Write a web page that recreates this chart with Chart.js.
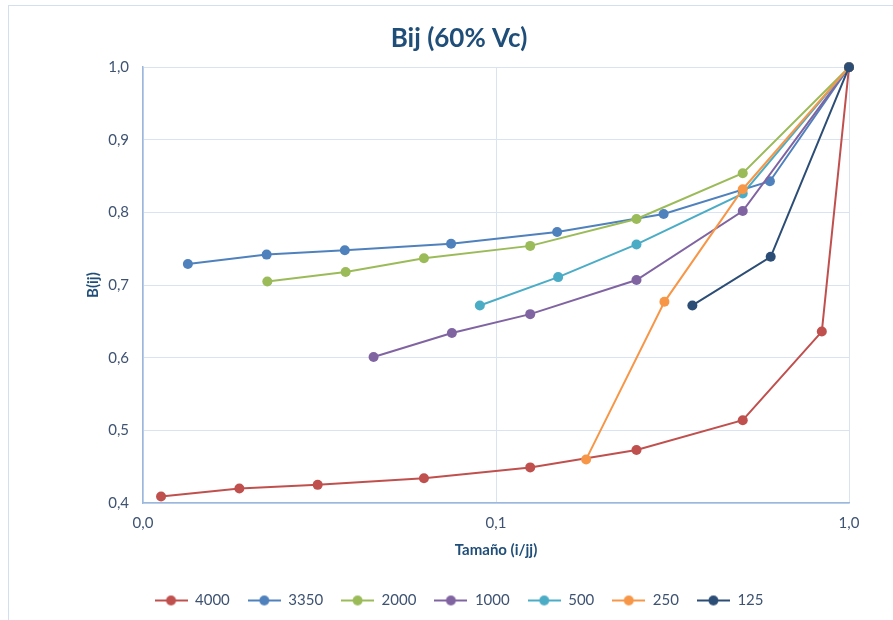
<!DOCTYPE html>
<html>
<head>
<meta charset="utf-8">
<script src="https://cdn.jsdelivr.net/npm/chart.js@4/dist/chart.umd.min.js"></script>
<style>
  html, body { margin: 0; padding: 0; background: #fff; overflow: hidden; }
  #frame { position: absolute; left: 8px; top: 5px; width: 1000px; height: 1000px; border: 1px solid #D3DEEE; }
  #wrap { position: absolute; left: 0; top: 0; width: 893px; height: 620px; }
</style>
</head>
<body>
<div id="frame"></div>
<div id="wrap"><canvas id="bij"></canvas></div>
<script>
// relative size (i/jj) and B(ij) for each top size
const size4000 = [0.01125, 0.01875, 0.03125, 0.0625, 0.125, 0.25, 0.5, 0.8375, 1.0];
const bij4000  = [0.409, 0.420, 0.425, 0.434, 0.449, 0.473, 0.514, 0.636, 1.0];

const size3350 = [0.0134, 0.0224, 0.0373, 0.0746, 0.149, 0.2985, 0.597, 1.0];
const bij3350  = [0.729, 0.742, 0.748, 0.757, 0.773, 0.798, 0.843, 1.0];

const size2000 = [0.0225, 0.0375, 0.0625, 0.125, 0.25, 0.5, 1.0];
const bij2000  = [0.705, 0.718, 0.737, 0.754, 0.791, 0.854, 1.0];

const size1000 = [0.045, 0.075, 0.125, 0.25, 0.5, 1.0];
const bij1000  = [0.601, 0.634, 0.660, 0.707, 0.802, 1.0];

const size500 = [0.09, 0.15, 0.25, 0.5, 1.0];
const bij500  = [0.672, 0.711, 0.756, 0.826, 1.0];

const size250 = [0.18, 0.3, 0.5, 1.0];
const bij250  = [0.460, 0.677, 0.832, 1.0];

const size125 = [0.36, 0.6, 1.0];
const bij125  = [0.672, 0.739, 1.0];

const seriesNames = ['4000', '3350', '2000', '1000', '500', '250', '125'];
const seriesSizes = [size4000, size3350, size2000, size1000, size500, size250, size125];
const seriesBij   = [bij4000, bij3350, bij2000, bij1000, bij500, bij250, bij125];
const seriesColors = ['#C0504D', '#4F81BD', '#9BBB59', '#8064A2', '#4BACC6', '#F79646', '#2C4D75'];

const xTicks = [0.01, 0.1, 1];

function comma(v)
{
    return Number(v).toFixed(1).replace('.', ',');
}

// small line + dot used as legend marker
function legendMarker(color)
{
    const c = document.createElement('canvas');
    c.width = 33; c.height = 12;
    const g = c.getContext('2d');
    g.strokeStyle = color;
    g.lineWidth = 2;
    g.beginPath(); g.moveTo(0, 6); g.lineTo(33, 6); g.stroke();
    g.fillStyle = color;
    g.beginPath(); g.arc(16.5, 6, 5, 0, Math.PI * 2); g.fill();
    return c;
}

// later series are drawn on top of earlier ones
const datasets = seriesNames.map((name, i) => ({
    label: name,
    data: seriesSizes[i].map((x, j) => ({x: x, y: seriesBij[i][j]})),
    borderColor: seriesColors[i],
    backgroundColor: seriesColors[i],
    borderWidth: 2,
    pointRadius: 5,
    pointHoverRadius: 5,
    pointBorderWidth: 0,
    legendMarker: legendMarker(seriesColors[i]),
    order: seriesNames.length - i,
    clip: false
}));

const ctx = document.getElementById('bij');
const tickColor = '#3E5372';
const titleColor = '#1F4E79';

new Chart(ctx, {
    type: 'line',
    data: { datasets: datasets },
    options: {
        responsive: true,
        maintainAspectRatio: false,
        animation: false,
        layout: { padding: { left: 69, right: 44, top: 19, bottom: 2 } },
        plugins: {
            title: {
                display: true,
                text: 'Bij (60% Vc)',
                color: titleColor,
                font: { family: 'Lato', size: 26, weight: 'bold' },
                padding: { top: 4, bottom: 13 }
            },
            legend: {
                position: 'bottom',
                labels: {
                    usePointStyle: true,
                    pointStyleWidth: 33,
                    padding: 18,
                    color: tickColor,
                    font: { family: 'Lato', size: 15 },
                    generateLabels: chart => chart.data.datasets.map((d, i) => ({
                        text: d.label,
                        pointStyle: d.legendMarker,
                        fontColor: tickColor,
                        lineWidth: 0,
                        hidden: false,
                        datasetIndex: i
                    }))
                }
            },
            tooltip: { enabled: false }
        },
        scales: {
            x: {
                type: 'logarithmic',
                min: 0.01,
                max: 1,
                afterBuildTicks: axis => { axis.ticks = xTicks.map(v => ({value: v})); },
                afterFit: axis => { axis.height = 72; },
                ticks: {
                    color: tickColor,
                    font: { family: 'Lato', size: 15 },
                    padding: 11,
                    autoSkip: false,
                    maxRotation: 0,
                    callback: v => comma(v)
                },
                grid: { color: '#D9E3F1', lineWidth: 1, drawTicks: false },
                border: { color: '#9CB7DD', width: 1.5 },
                title: {
                    display: true,
                    text: 'Tamaño (i/jj)',
                    color: titleColor,
                    font: { family: 'Lato', size: 15, weight: 'bold' },
                    padding: { top: 0, bottom: 16 }
                }
            },
            y: {
                min: 0.4,
                max: 1.0,
                afterFit: axis => { axis.width = 74; },
                ticks: {
                    stepSize: 0.1,
                    color: tickColor,
                    font: { family: 'Lato', size: 15 },
                    padding: 14,
                    callback: v => comma(v)
                },
                grid: { color: '#D9E3F1', lineWidth: 1, drawTicks: false },
                border: { color: '#9CB7DD', width: 1.5 },
                title: {
                    display: true,
                    text: 'B(ij)',
                    color: titleColor,
                    font: { family: 'Lato', size: 15, weight: 'bold' },
                    padding: { top: 15, bottom: 0 }
                }
            }
        }
    }
});
</script>
</body>
</html>
